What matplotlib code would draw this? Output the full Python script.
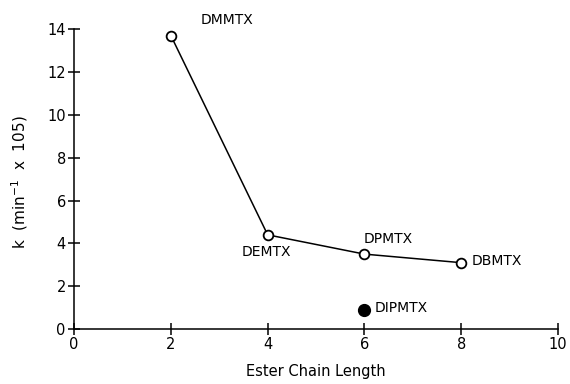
import matplotlib
matplotlib.use("Agg")
import matplotlib.pyplot as plt

chain = [2, 4, 6, 8]
k_vals = [13.7, 4.4, 3.5, 3.1]
names = ["DMMTX", "DEMTX", "DPMTX", "DBMTX"]
iso_x = [6]
iso_k = [0.9]
iso_name = "DIPMTX"
xticks = [0, 2, 4, 6, 8, 10]
yticks = [0, 2, 4, 6, 8, 10, 12, 14]

plt.rcParams['font.family'] = ['DejaVu Sans']
fig = plt.figure(figsize=(5.7, 3.84), dpi=100)
ax = fig.add_axes([0.13, 0.143, 0.849, 0.781])
ax.plot(chain, k_vals, color='black', lw=1.1, marker='o', ms=7,
        mfc='white', mec='black', mew=1.3, zorder=3)
ax.plot(iso_x, iso_k, 'o', color='black', ms=8.5, zorder=3)

fs = 10
ax.text(3.16, 14.44, names[0], ha='center', va='center', fontsize=fs)
ax.text(3.97, 3.6, names[1], ha='center', va='center', fontsize=fs)
ax.text(6.49, 4.2, names[2], ha='center', va='center', fontsize=fs)
ax.text(8.22, 3.2, names[3], ha='left', va='center', fontsize=fs)
ax.text(6.2, 0.98, iso_name, ha='left', va='center', fontsize=fs)

ax.set_xlim(0, 10)
ax.set_ylim(0, 14)
ax.set_xticks(xticks)
ax.set_yticks(yticks)
ax.spines['top'].set_visible(False)
ax.spines['right'].set_visible(False)
for s in ('left', 'bottom'):
    ax.spines[s].set_linewidth(1.1)
ax.tick_params(direction='inout', length=8, width=1.1, labelsize=10.5, pad=2)
ax.set_xlabel('Ester Chain Length', fontsize=10.5, labelpad=8)
ax.set_ylabel('k  (min$^{-1}$  x  105)', fontsize=11)
ax.yaxis.set_label_coords(-0.092, 0.49)
fig.savefig('out.png', dpi=100)
